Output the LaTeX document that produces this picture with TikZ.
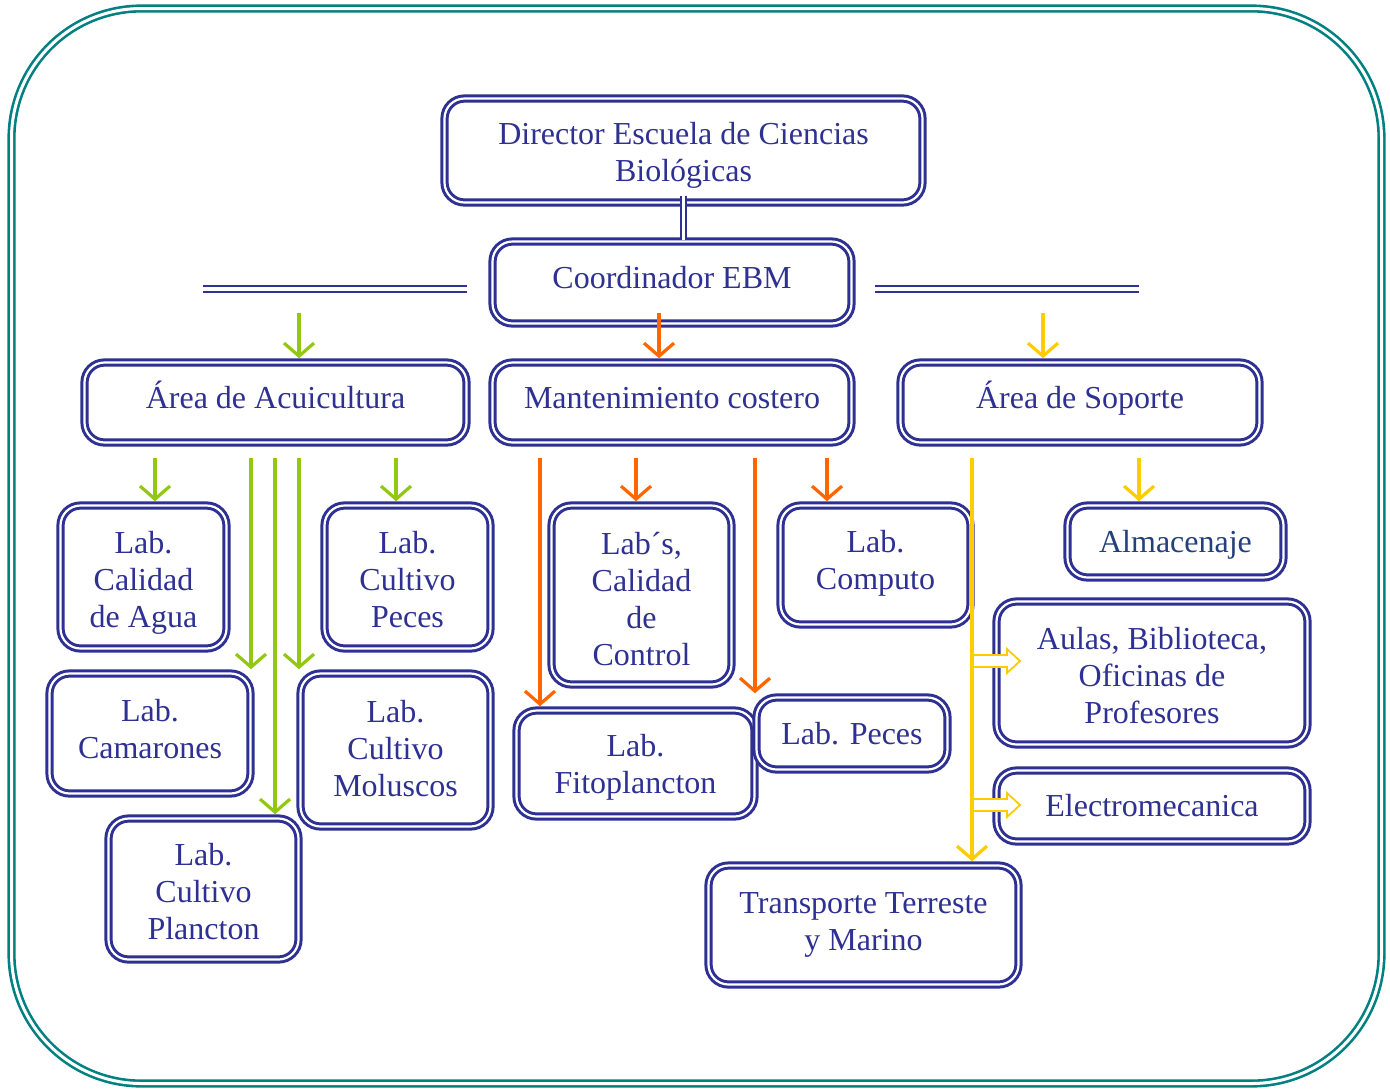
\documentclass[tikz,border=0pt]{standalone}
\usepackage{fontspec}
\setmainfont{Liberation Serif}
\usetikzlibrary{arrows.meta}
\usetikzlibrary{calc}
\definecolor{mnavy}{RGB}{46,49,146}
\definecolor{mslate}{RGB}{35,64,122}
\definecolor{mgreen}{RGB}{146,200,20}
\definecolor{morange}{RGB}{255,102,0}
\definecolor{myellow}{RGB}{255,204,0}
\definecolor{mteal}{RGB}{0,128,128}
\newcommand{\mtop}[1]{\rule{0pt}{#1}}
\tikzset{
  mbox/.style={draw=mnavy, double=white, double distance=1.1pt, line width=1.5pt,
    rounded corners=10pt, text=mnavy, align=center, inner sep=0pt,
    font=\fontsize{16}{18.5}\selectfont},
  marea/.style={mbox, text height=11pt, text depth=5.4pt},
  mup/.style={execute at end node={\rule[-#1]{0pt}{0pt}}},
  mlink/.style={draw=mnavy, double=white, double distance=1.6pt, line width=1.15pt},
  mframe/.style={draw=mteal, double=white, double distance=1.5pt, line width=1.3pt, rounded corners=65pt},
  marrow/.style={line width=1.6pt, -{Straight Barb[length=6.5pt,width=15pt]}, shorten >=1.4pt},
  garrow/.style={marrow, mgreen},
  oarrow/.style={marrow, morange},
  yarrow/.style={marrow, myellow},
  mblock/.style={draw=myellow, fill=white, line width=0.9pt, line join=miter}
}

\begin{document}
\begin{tikzpicture}[x=0.5pt, y=-0.5pt]
  \fill[white] (0,0) rectangle (1390,1088);
  \useasboundingbox (0,0) rectangle (1390,1088);
  \draw[mframe] (11.5,8.5) rectangle (1381.5,1083.5);

  % top of the chart
  \node[mbox, minimum width=239pt, minimum height=52pt] (dir) at (683.5,150.5) {\mtop{16pt}Director Escuela de Ciencias\\Biológicas};
  \node[marea, minimum width=179.5pt, minimum height=41pt] (coord) at (672,282.5) {Coordinador EBM};
  \draw[mlink] ($(dir.south)+(0,-8)$) -- (dir.south |- coord.north);
  \coordinate (hl0) at (203,289);
  \coordinate (hl1) at (467,289);
  \coordinate (hr0) at (875,289);
  \coordinate (hr1) at (1139,289);
  \draw[mlink] (hl0) -- (hl1);
  \draw[mlink] (hr0) -- (hr1);

  % areas
  \node[marea, minimum width=191pt, minimum height=40pt] (acui) at (275.5,402.5) {Área de Acuicultura};
  \node[marea, minimum width=179.5pt, minimum height=40pt] (mant) at (672,402.5) {Mantenimiento costero};
  \node[marea, minimum width=179.5pt, minimum height=40pt] (sop) at (1080,402.5) {Área de Soporte};

  % acuicultura labs
  \node[mbox, minimum width=83pt, minimum height=71.5pt] (agua) at (143.5,577) {\mtop{17pt}Lab.\\Calidad\\de Agua};
  \node[mbox, minimum width=83pt, minimum height=71.5pt] (cpeces) at (407.5,577) {\mtop{14pt}Lab.\\Cultivo\\Peces};
  \node[mbox, mup=5pt, minimum width=100.5pt, minimum height=60pt] (camar) at (150,733.5) {Lab.\\Camarones};
  \node[mbox, mup=2pt, minimum width=95pt, minimum height=76.5pt] (molus) at (395.5,750) {Lab.\\Cultivo\\Moluscos};
  \node[mbox, minimum width=95pt, minimum height=70.5pt] (planc) at (203.5,889) {\mtop{14pt}Lab.\\Cultivo\\Plancton};

  % mantenimiento labs
  \node[mbox, minimum width=90pt, minimum height=89.5pt] (control) at (641.5,595) {\mtop{15pt}Lab´s,\\Calidad\\de\\Control};
  \node[mbox, mup=5.5pt, minimum width=95pt, minimum height=59.5pt] (computo) at (875.5,565) {Lab.\\Computo};
  \node[mbox, minimum width=119pt, minimum height=53pt] (fito) at (635.5,763.5) {\mtop{15pt}Lab.\\Fitoplancton};
  \node[mbox, minimum width=95.5pt, minimum height=36pt] (lpeces) at (852,733.5) {Lab. Peces};

  % soporte
  \node[mbox, text=mslate, minimum width=108pt, minimum height=36pt] (almac) at (1175.5,541.5) {\mtop{14pt}Almacenaje};
  \node[mbox, minimum width=155.5pt, minimum height=71.5pt] (aulas) at (1152,673) {\mtop{14pt}Aulas, Biblioteca,\\Oficinas de\\Profesores};
  \node[mbox, minimum width=155.5pt, minimum height=35.5pt] (electro) at (1152,806) {Electromecanica};
  \node[mbox, minimum width=155pt, minimum height=59.5pt] (transp) at (863.5,925) {Transporte Terreste\\y Marino};

  % arrows to the areas
  \coordinate (g0) at (299,313);
  \coordinate (o0) at (659,313);
  \coordinate (y0) at (1043,313);
  \draw[garrow] (g0) -- (g0 |- acui.north);
  \draw[oarrow] (o0) -- (o0 |- mant.north);
  \draw[yarrow] (y0) -- (y0 |- sop.north);

  % green arrows
  \coordinate (g1) at (155,458);
  \coordinate (g2) at (251,458);
  \coordinate (g3) at (275,458);
  \coordinate (g4) at (299,458);
  \coordinate (g5) at (396,458);
  \draw[garrow] (g1) -- (g1 |- agua.north);
  \draw[garrow] (g2) -- (g2 |- camar.north);
  \draw[garrow] (g3) -- (g3 |- planc.north);
  \draw[garrow] (g4) -- (g4 |- molus.north);
  \draw[garrow] (g5) -- (g5 |- cpeces.north);

  % orange arrows
  \coordinate (o1) at (540,458);
  \coordinate (o2) at (636,458);
  \coordinate (o3) at (755,458);
  \coordinate (o4) at (827,458);
  \draw[oarrow] (o1) -- (o1 |- fito.north);
  \draw[oarrow] (o2) -- (o2 |- control.north);
  \draw[oarrow] (o3) -- (o3 |- lpeces.north);
  \draw[oarrow] (o4) -- (o4 |- computo.north);

  % yellow arrows
  \coordinate (y1) at (1139,458);
  \coordinate (y2) at (972,458);
  \draw[yarrow] (y1) -- (y1 |- almac.north);
  \foreach \y in {661,805}
    \draw[mblock] (972,\y-6) -- (1007,\y-6) -- (1007,\y-12) -- (1020,\y) -- (1007,\y+12) -- (1007,\y+6) -- (972,\y+6);
  \draw[yarrow] (y2) -- (y2 |- transp.north);
\end{tikzpicture}
\end{document}
